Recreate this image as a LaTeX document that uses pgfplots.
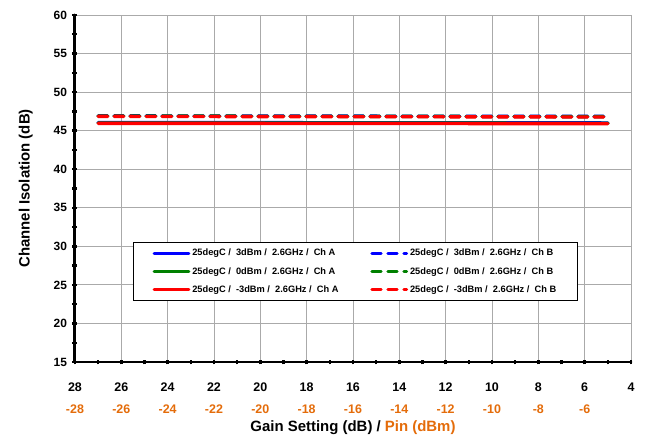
\documentclass[border=0pt]{standalone}
\usepackage{pgfplots}
\pgfplotsset{compat=1.18}
\usepackage{fontspec}
\setmainfont{Liberation Sans}
\definecolor{pinor}{RGB}{228,108,10}
\definecolor{gridg}{RGB}{170,170,170}
\begin{document}
\begin{tikzpicture}
\begin{axis}[
  scale only axis, width=556bp, height=347bp,
  clip=false,
  x dir=reverse,
  xmin=4, xmax=28, ymin=15, ymax=60,
  axis x line*=bottom, axis y line*=left,
  xtick={28,26,...,4}, minor x tick num=1,
  ytick={15,20,...,60}, minor y tick num=1,
  xticklabels={{28\\\textcolor{pinor}{-28}},{26\\\textcolor{pinor}{-26}},{24\\\textcolor{pinor}{-24}},{22\\\textcolor{pinor}{-22}},{20\\\textcolor{pinor}{-20}},{18\\\textcolor{pinor}{-18}},{16\\\textcolor{pinor}{-16}},{14\\\textcolor{pinor}{-14}},{12\\\textcolor{pinor}{-12}},{10\\\textcolor{pinor}{-10}},{8\\\textcolor{pinor}{-8}},{6\\\textcolor{pinor}{-6}},{4}},
  xticklabel style={align=center, font=\fontsize{12.5}{22}\selectfont\bfseries, yshift=-15bp},
  yticklabel style={font=\fontsize{12}{14}\selectfont\bfseries, xshift=-2bp},
  /pgf/number format/assume math mode=true,
  tick align=center, major tick length=5bp, minor tick length=5bp,
  tick style={black, line width=2.4pt},
  grid=major, major grid style={gridg, line width=0.8pt},
  xlabel={\fontsize{15}{17}\selectfont\bfseries Gain Setting (dB) / \textcolor{pinor}{Pin (dBm)}},
  ylabel={\fontsize{15}{17}\selectfont\bfseries Channel Isolation (dB)},
  xlabel style={yshift=0bp},
  ylabel style={yshift=14bp},
  legend columns=2,
  legend style={at={(0.5045,0.261)}, anchor=center, draw=black, line width=1.2pt,
    font=\fontsize{9.3}{11}\selectfont\bfseries, row sep=6bp,
    /tikz/every even column/.append style={column sep=30bp}, inner xsep=19bp, inner ysep=5bp},
  legend cell align=left,
  legend image code/.code={\draw[#1, line width=2.6pt] (0bp,0bp) -- (35bp,0bp);},
]
\addplot[blue, line width=3.4pt, line cap=round] coordinates {(27,46.05) (22,46.04) (16,46.03) (10,46.02) (5,46.0)};
\addlegendentry{25degC /\ \ 3dBm /\ \ 2.6GHz /\ \ Ch A}
\addplot[blue, line width=3.4pt, dash pattern=on 9.5bp off 6.5bp, line cap=round] coordinates {(27,46.92) (22,46.9) (16,46.88) (10,46.86) (5,46.85)};
\addlegendentry{25degC /\ \ 3dBm /\ \ 2.6GHz /\ \ Ch B}
\addplot[green!50!black, line width=3.4pt, line cap=round] coordinates {(27,46.0) (22,45.99) (16,45.98) (10,45.97) (5,45.96)};
\addlegendentry{25degC /\ \ 0dBm /\ \ 2.6GHz /\ \ Ch A}
\addplot[green!50!black, line width=3.4pt, dash pattern=on 9.5bp off 6.5bp, line cap=round] coordinates {(27,46.9) (22,46.88) (16,46.86) (10,46.84) (5,46.82)};
\addlegendentry{25degC /\ \ 0dBm /\ \ 2.6GHz /\ \ Ch B}
\addplot[red, line width=3.4pt, line cap=round] coordinates {(27,45.95) (22,45.94) (16,45.93) (10,45.92) (5,45.9)};
\addlegendentry{25degC /\ \ -3dBm /\ \ 2.6GHz /\ \ Ch A}
\addplot[red, line width=3.4pt, dash pattern=on 9.5bp off 6.5bp, line cap=round] coordinates {(27,46.85) (22,46.83) (16,46.81) (10,46.79) (5,46.77)};
\addlegendentry{25degC /\ \ -3dBm /\ \ 2.6GHz /\ \ Ch B}
\draw[black, line width=3pt, line cap=round] (rel axis cs:0,1) -- (rel axis cs:0,0) -- (rel axis cs:1,0);
\end{axis}
\path[use as bounding box] (-75bp,-73bp) rectangle (571bp,362bp);
\end{tikzpicture}
\end{document}
